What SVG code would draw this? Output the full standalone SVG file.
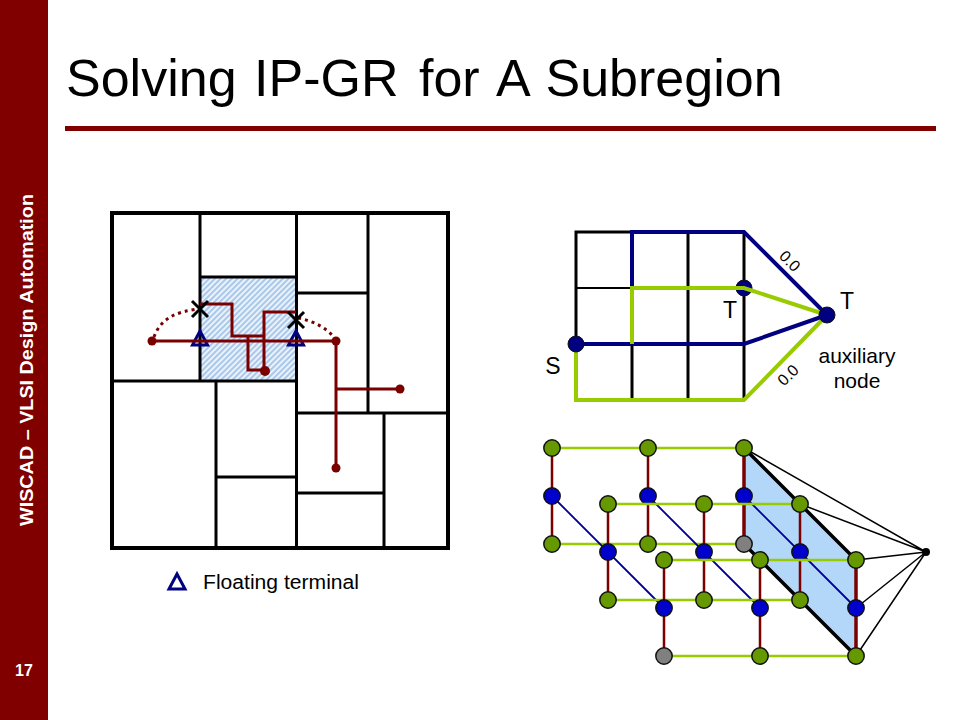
<svg xmlns="http://www.w3.org/2000/svg" width="960" height="720" viewBox="0 0 960 720">
<style>
text{font-family:"Liberation Sans",Arial,sans-serif;fill:#000}
.w{fill:none;stroke:#000;stroke-width:3}
.o{fill:none;stroke:#000;stroke-width:4}
.r{fill:none;stroke:#7a0000;stroke-width:3}
.rd{fill:#7a0000}
.dot{fill:none;stroke:#7a0000;stroke-width:3;stroke-dasharray:3 4}
.x{stroke:#000;stroke-width:3;fill:none}
.tri{fill:none;stroke:#000080;stroke-width:3}
.gr{stroke:#000;stroke-width:3;fill:none}
.nv{fill:none;stroke:#000080;stroke-width:4}
.lg{fill:none;stroke:#99cc00;stroke-width:4}
.gn{stroke:#99cc00;stroke-width:2.5;fill:none}
.rw{stroke:#7a0000;stroke-width:2.5;fill:none}
.rt{stroke:#7a0000;stroke-width:3.5;fill:none}
.bl{stroke:#000099;stroke-width:1.8;fill:none}
.k{stroke:#000;stroke-width:1.5;fill:none}
.kk{stroke:#000;stroke-width:3.5;fill:none}
.ng{fill:#669900;stroke:#111;stroke-width:1.5}
.nb{fill:#0000cc;stroke:#111;stroke-width:1.5}
.ny{fill:#808080;stroke:#111;stroke-width:1.5}
</style>
<defs>
<pattern id="hatch" width="4" height="4" patternUnits="userSpaceOnUse" patternTransform="rotate(45)">
<rect width="4" height="4" fill="#eaf2fb"/>
<rect width="2" height="4" fill="#a9c8ea"/>
</pattern>
<circle id="g" r="8.200" class="ng"/>
<circle id="b" r="8.200" class="nb"/>
<circle id="y" r="8.200" class="ny"/>
<path id="t" d="M0-9 7.500 5H-7.500Z" class="tri"/>
<path id="xm" d="M-8-8 8 8M8-8-8 8" class="x"/>
</defs>

<g id="sidebar">
<rect width="48" height="720" fill="#800000"/>
<text transform="translate(33,526) rotate(-90)" font-size="18" font-weight="bold" style="fill:#fff" textLength="332" lengthAdjust="spacingAndGlyphs">WISCAD – VLSI Design Automation</text>
<text x="24" y="676" font-size="16" font-weight="bold" text-anchor="middle" style="fill:#fff">17</text>
</g>
<g id="title">
<text y="96" font-size="52"><tspan x="66">Solving</tspan> <tspan x="254">IP-GR</tspan> <tspan x="419">for</tspan> <tspan x="496">A</tspan> <tspan x="545.500">Subregion</tspan></text>
<rect x="65" y="126" width="871" height="5" fill="#800000"/>
</g>

<g id="floorplan">
<rect x="200" y="277" width="96" height="104" fill="url(#hatch)"/>
<path class="w" d="M200 213V381M296.500 213V548M368 213V413M200 277H296M296 293H368M112 381H296M216 381V548M216 477H296M296 413H448M384 413V548M296 493H384"/>
<rect x="112" y="213" width="336" height="335" class="o"/>
</g>
<g id="triangles">
<use href="#t" x="200" y="340"/>
<use href="#t" x="296" y="340"/>
</g>
<g id="wires">
<path class="r" d="M152 341H336V468M336 389H400M200 304H232V336H264V312H296M248 336V370H265M264 336V370"/>
<path class="dot" d="M154 337C161 318 176 312 198 309M298 318C314 321 326 328 334 337"/>
<circle cx="152" cy="341" r="4.500" class="rd"/>
<circle cx="336" cy="341" r="4.500" class="rd"/>
<circle cx="400" cy="389" r="4.500" class="rd"/>
<circle cx="336" cy="468" r="4.500" class="rd"/>
<circle cx="265" cy="371" r="5" class="rd"/>
</g>
<g id="crosses">
<use href="#xm" x="200" y="309"/>
<use href="#xm" x="296" y="320"/>
</g>
<g id="legend">
<path d="M177 574 185 589H169Z" class="tri"/>
<text x="203" y="589" font-size="20" textLength="156" lengthAdjust="spacingAndGlyphs">Floating terminal</text>
</g>

<g id="routing-grid">
<path class="gr" d="M576 344V232H632M632 344V400M688 232V400M744 232V400"/>
<path d="M632 288H576" stroke="#000" stroke-width="2" fill="none"/>
<path class="nv" d="M632 288V232H744L827 315M576 344H744L827 315"/>
<circle cx="744" cy="288" r="8" fill="#000080" stroke="#111"/>
<path class="lg" d="M632 344V288H744L827 315M576 344V400H744L827 315"/>
<circle cx="576" cy="344" r="8" fill="#000080" stroke="#111"/>
<circle cx="827" cy="315" r="8" fill="#000080" stroke="#111"/>
<text x="730" y="318" font-size="23" text-anchor="middle">T</text>
<text x="847" y="309" font-size="23" text-anchor="middle">T</text>
<text x="553" y="374" font-size="23" text-anchor="middle">S</text>
<text x="857" y="363" font-size="21" text-anchor="middle">auxiliary</text>
<text x="857" y="388" font-size="21" text-anchor="middle">node</text>
<text transform="translate(789,262) rotate(45)" font-size="16" text-anchor="middle" dominant-baseline="middle">0.0</text>
<text transform="translate(789,376) rotate(-45)" font-size="16" text-anchor="middle" dominant-baseline="middle">0.0</text>
</g>

<g id="graph-connectors">
<polygon points="744,448 856,560 856,656 744,544" fill="#b3d7f9"/>
<path class="kk" d="M744 448 856 560M744 544 856 656"/>
<path class="k" d="M926 552 744 448M926 552 800 504M926 552 856 560M926 552 856 608M926 552 856 656"/>
<path class="gn" d="M552 448H744M552 544H744"/>
<path class="rw" d="M552 448V544M648 448V544"/>
<path class="rt" d="M744 448V544"/>
<path class="bl" d="M552 496 664 608M648 496 760 608M744 496 856 608"/>
</g>
<g id="layer1">
<use href="#g" x="552" y="448"/><use href="#g" x="648" y="448"/><use href="#g" x="744" y="448"/>
<use href="#b" x="552" y="496"/><use href="#b" x="648" y="496"/><use href="#b" x="744" y="496"/>
<use href="#g" x="552" y="544"/><use href="#g" x="648" y="544"/><use href="#y" x="744" y="544"/>
</g>
<g id="graph-connectors-2">
<path class="gn" d="M608 504H800M608 600H800"/>
<path class="rw" d="M608 504V600M704 504V600M800 504V600"/>
</g>
<g id="layer2">
<use href="#g" x="608" y="504"/><use href="#g" x="704" y="504"/><use href="#g" x="800" y="504"/>
<use href="#b" x="608" y="552"/><use href="#b" x="704" y="552"/><use href="#b" x="800" y="552"/>
<use href="#g" x="608" y="600"/><use href="#g" x="704" y="600"/><use href="#g" x="800" y="600"/>
</g>
<g id="graph-connectors-3">
<path class="gn" d="M664 560H856M664 656H856"/>
<path class="rw" d="M664 560V656M760 560V656"/>
<path class="rt" d="M856 560V656"/>
</g>
<g id="layer3">
<use href="#g" x="664" y="560"/><use href="#g" x="760" y="560"/><use href="#g" x="856" y="560"/>
<use href="#b" x="664" y="608"/><use href="#b" x="760" y="608"/><use href="#b" x="856" y="608"/>
<use href="#y" x="664" y="656"/><use href="#g" x="760" y="656"/><use href="#g" x="856" y="656"/>
</g>
<g id="aux"><circle cx="926" cy="552" r="4" fill="#000"/></g>
</svg>
